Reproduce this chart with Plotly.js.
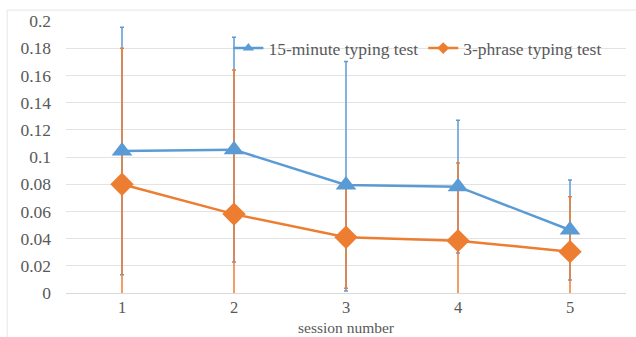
<!DOCTYPE html>
<html>
<head>
<meta charset="utf-8">
<script src="https://cdn.plot.ly/plotly-3.0.1.min.js"></script>
<style>html,body{margin:0;padding:0;background:#fff;}#chart{width:636px;height:337px;}</style>
</head>
<body>
<div id="chart"></div>
<script>
var sessions = [1, 2, 3, 4, 5];
var sessionLabels = ['1', '2', '3', '4', '5'];
var minute15 = [0.1044, 0.1054, 0.0794, 0.0782, 0.0463];
var minute15ErrPlus = [0.091, 0.0826, 0.0908, 0.0488, 0.0367];
var minute15ErrMinus = [0.091, 0.0826, 0.078, 0.0488, 0.0367];
var phrase3 = [0.080, 0.058, 0.041, 0.0385, 0.0304];
var phrase3ErrPlus = [0.100, 0.106, 0.0375, 0.057, 0.0404];
var phrase3ErrMinus = [0.100, 0.106, 0.0375, 0.057, 0.0404];
var yTicks = [0, 0.02, 0.04, 0.06, 0.08, 0.1, 0.12, 0.14, 0.16, 0.18, 0.2];
var yTickLabels = ['0', '0.02', '0.04', '0.06', '0.08', '0.1', '0.12', '0.14', '0.16', '0.18', '0.2'];
var names = ['15-minute typing test', '3-phrase typing test'];
var xTitle = 'session number';

var blue = '#5B9BD5', orange = '#ED7D31';

var traces = [
  {x: sessions, y: minute15, mode: 'none', type: 'scatter', showlegend: false, hoverinfo: 'skip',
   error_y: {type: 'data', symmetric: false, array: minute15ErrPlus, arrayminus: minute15ErrMinus, color: blue, thickness: 1.5, width: 2}},
  {x: sessions, y: phrase3, mode: 'none', type: 'scatter', showlegend: false, hoverinfo: 'skip',
   error_y: {type: 'data', symmetric: false, array: phrase3ErrPlus, arrayminus: phrase3ErrMinus, color: orange, thickness: 1.5, width: 2}},
  {x: sessions, y: minute15, mode: 'lines+markers', type: 'scatter', showlegend: false,
   line: {color: blue, width: 2.5}, marker: {symbol: 'triangle-up', size: 18, color: blue}},
  {x: sessions, y: phrase3, mode: 'lines+markers', type: 'scatter', showlegend: false,
   line: {color: orange, width: 2.5}, marker: {symbol: 'diamond', size: 18, color: orange}},
  {x: [null], y: [null], mode: 'lines+markers', type: 'scatter', name: names[0],
   line: {color: blue, width: 2.5}, marker: {symbol: 'triangle-up', size: 10, color: blue}},
  {x: [null], y: [null], mode: 'lines+markers', type: 'scatter', name: names[1],
   line: {color: orange, width: 2.5}, marker: {symbol: 'diamond', size: 9, color: orange}}
];

var font = {family: '"Liberation Serif", "Times New Roman", serif', size: 17.5, color: '#595959'};
var xTickFont = {family: '"Liberation Serif", "Times New Roman", serif', size: 16.5, color: '#595959'};
var titleFont = {family: '"Liberation Serif", "Times New Roman", serif', size: 15.5, color: '#595959'};

var layout = {
  width: 636, height: 337,
  margin: {l: 66, r: 10, t: 21, b: 44},
  paper_bgcolor: '#fff', plot_bgcolor: '#fff',
  font: font,
  showlegend: true,
  legend: {orientation: 'h', x: 0.29, xanchor: 'left', y: 0.9, yanchor: 'middle',
           bgcolor: 'rgba(0,0,0,0)', font: font, traceorder: 'normal'},
  xaxis: {type: 'linear', range: [0.5, 5.5], tickvals: sessions, ticktext: sessionLabels,
          showgrid: false, zeroline: false, showline: false, ticks: '', fixedrange: true,
          tickfont: xTickFont, ticklabelstandoff: 2},
  yaxis: {range: [0, 0.2], tickvals: yTicks, ticktext: yTickLabels, showgrid: true,
          gridcolor: '#e3e3e3', gridwidth: 1, zeroline: true, zerolinecolor: '#d9d9d9', zerolinewidth: 1,
          showline: false, ticks: '', tickfont: font, ticklabelstandoff: 14},
  annotations: [{text: xTitle, xref: 'paper', yref: 'paper', x: 0.5, y: -0.16, xanchor: 'center', yanchor: 'bottom',
                 showarrow: false, font: titleFont, borderpad: 0}],
  shapes: [{type: 'rect', xref: 'paper', yref: 'paper', x0: -0.105, x1: 1.05, y0: -0.2, y1: 1.04,
            line: {color: '#e6e6e6', width: 1}, fillcolor: 'rgba(0,0,0,0)', layer: 'below'}]
};

Plotly.newPlot('chart', traces, layout, {displayModeBar: false, staticPlot: true});
</script>
</body>
</html>
